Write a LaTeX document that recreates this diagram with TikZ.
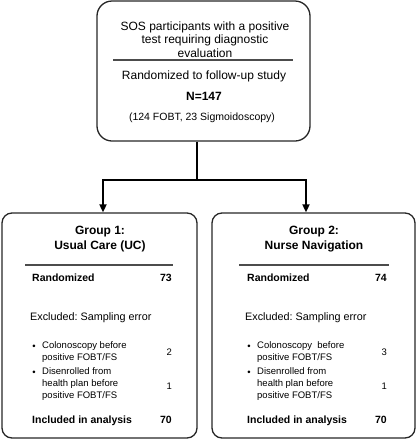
\documentclass[tikz,border=0pt]{standalone}
\usepackage{fontspec}
\setmainfont{Liberation Sans}
\usetikzlibrary{arrows.meta}
\frenchspacing

\begin{document}
\begin{tikzpicture}[x=1pt,y=-1pt,
    box/.style={draw=black!85, line width=1.3pt, rounded corners=#1, inner sep=0pt},
    box/.default=10pt,
    rule/.style={draw=black!70, line width=1.2pt},
    link/.style={line width=1.8pt, -{Triangle[length=8pt,width=7pt]}},
    big/.style={font=\fontsize{12}{13.5}\selectfont, inner sep=0pt},
    head/.style={font=\bfseries\fontsize{12}{15}\selectfont, align=center, inner sep=0pt},
    row/.style={font=\bfseries\fontsize{10.5}{12}\selectfont, inner sep=0pt},
    excl/.style={font=\fontsize{10.8}{12}\selectfont, inner sep=0pt, anchor=base west},
    item/.style={font=\fontsize{9.5}{12}\selectfont, inner sep=0pt, align=left, anchor=north west},
    num/.style={font=\fontsize{9.5}{12}\selectfont, inner sep=0pt, anchor=base east}]
  \useasboundingbox (0,0) rectangle (416,440);

  % Draw the screening box at the top
  \node[box=15pt, minimum width=213pt, minimum height=140pt] (screen) at (203.5,71) {};
  \node[big, align=center, anchor=north] (sos) at (205,21.5)
    {SOS participants with a positive\\ test requiring diagnostic\\ evaluation};
  \draw[rule] (113,60) -- (293,60);
  \node[big, anchor=base] (rand) at (204,79.5) {Randomized to follow-up study};
  \node[big, font=\bfseries\fontsize{12}{13.5}\selectfont, anchor=base] (total) at (204,100.5) {N=147};
  \node[inner sep=0pt, font=\fontsize{10.5}{12}\selectfont, anchor=base] (split) at (202,120)
    {(124 FOBT, 23 Sigmoidoscopy)};

  % Draw the two group boxes
  \node[box, minimum width=195pt, minimum height=225pt] (usual) at (99.5,325.5) {};
  \node[box, minimum width=203pt, minimum height=225pt] (nurse) at (313.5,325.5) {};

  % Add the connectors from the top box to each group
  \coordinate (fork) at (197,180);
  \draw[line width=1.8pt] (screen.south -| fork) -- (fork);
  \draw[link] (fork) -| ([xshift=3.5pt]usual.north);
  \draw[link] (fork) -| ([xshift=-7.5pt]nurse.north);

  % Group 1: usual care
  \node[head] (uchead) at (100,239.5) {Group 1:\\ Usual Care (UC)};
  \draw[rule] (25,265) -- (173,265);
  \node[row, anchor=base west] (ucrand) at (32,281) {Randomized};
  \node[row, anchor=base east] (ucrandn) at (172,281) {73};
  \node[excl] (ucexcl) at (30,320) {Excluded: Sampling error};
  \node[num] (ucb1) at (36,349) {\textbullet};
  \node[item] (ucitem1) at (42,341.8) {Colonoscopy before\\ positive FOBT/FS};
  \node[num] (ucn1) at (172,355) {2};
  \node[num] (ucb2) at (36,375) {\textbullet};
  \node[item] (ucitem2) at (42,367.8) {Disenrolled from\\ health plan before\\ positive FOBT/FS};
  \node[num] (ucn2) at (172,389) {1};
  \node[row, anchor=base west] (ucinc) at (32,423) {Included in analysis};
  \node[row, anchor=base east] (ucincn) at (172,423) {70};

  % Group 2: nurse navigation
  \node[head] (nnhead) at (314,239.5) {Group 2:\\ Nurse Navigation};
  \draw[rule] (239,265) -- (389,265);
  \node[row, anchor=base west] (nnrand) at (247,281) {Randomized};
  \node[row, anchor=base east] (nnrandn) at (387,281) {74};
  \node[excl] (nnexcl) at (245,320) {Excluded: Sampling error};
  \node[num] (nnb1) at (251,349) {\textbullet};
  \node[item] (nnitem1) at (257,341.8) {Colonoscopy\ \ before\\ positive FOBT/FS};
  \node[num] (nnn1) at (387,355) {3};
  \node[num] (nnb2) at (251,375) {\textbullet};
  \node[item] (nnitem2) at (257,367.8) {Disenrolled from\\ health plan before\\ positive FOBT/FS};
  \node[num] (nnn2) at (387,389) {1};
  \node[row, anchor=base west] (nninc) at (247,423) {Included in analysis};
  \node[row, anchor=base east] (nnincn) at (387,423) {70};
\end{tikzpicture}
\end{document}
